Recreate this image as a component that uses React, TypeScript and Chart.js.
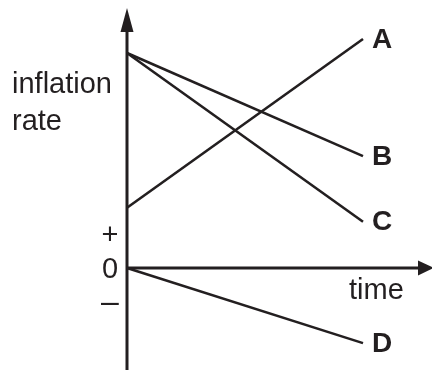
import React, { useEffect, useRef } from "react";
import { Chart, registerables } from "chart.js";

Chart.register(...registerables);

// Data (abstract units: time 0..10, inflation rate with 0 at the time axis)
const timePoints = [0, 10];
const seriesA = [2.8, 10.65];
const seriesB = [10, 5.2];
const seriesC = [10, 2.15];
const seriesD = [0, -3.5];
const seriesNames = ["A", "B", "C", "D"];
const seriesValues = [seriesA, seriesB, seriesC, seriesD];
const yAxisTitle = ["inflation", "rate"];
const xAxisTitle = "time";
const signLabels = ["+", "0", "\u2013"];

const INK = "#231f20";
const FONT = '"Liberation Sans", Arial, Helvetica, sans-serif';

const axesPlugin = {
  id: "sketchAxes",
  beforeDatasetsDraw(chart: any) {
    const { ctx } = chart;
    const xs = chart.scales.x;
    const ys = chart.scales.y;
    const x0 = xs.getPixelForValue(0);
    const y0 = ys.getPixelForValue(0);
    const W = chart.width;
    const H = chart.height;
    ctx.save();
    ctx.strokeStyle = INK;
    ctx.fillStyle = INK;
    ctx.lineWidth = 3;
    // y axis
    ctx.beginPath();
    ctx.moveTo(x0, 30);
    ctx.lineTo(x0, H);
    ctx.stroke();
    ctx.beginPath();
    ctx.moveTo(x0, 8);
    ctx.lineTo(x0 - 6.5, 32);
    ctx.lineTo(x0 + 6.5, 32);
    ctx.closePath();
    ctx.fill();
    // x axis
    ctx.beginPath();
    ctx.moveTo(x0, y0);
    ctx.lineTo(W - 12, y0);
    ctx.stroke();
    ctx.beginPath();
    ctx.moveTo(W + 2, y0);
    ctx.lineTo(W - 14, y0 - 7.5);
    ctx.lineTo(W - 14, y0 + 7.5);
    ctx.closePath();
    ctx.fill();
    ctx.restore();
  },
  afterDraw(chart: any) {
    const { ctx } = chart;
    const xs = chart.scales.x;
    const ys = chart.scales.y;
    const x0 = xs.getPixelForValue(0);
    const y0 = ys.getPixelForValue(0);
    ctx.save();
    ctx.fillStyle = INK;
    // y axis title
    ctx.font = `29px ${FONT}`;
    ctx.textAlign = "left";
    ctx.textBaseline = "alphabetic";
    ctx.fillText(yAxisTitle[0], 12, 93);
    ctx.fillText(yAxisTitle[1], 12, 130);
    // signs
    ctx.textAlign = "center";
    ctx.fillText(signLabels[0], x0 - 17, y0 - 24);
    ctx.fillText(signLabels[1], x0 - 17, y0 + 10);
    ctx.font = `32px ${FONT}`;
    ctx.fillText(signLabels[2], x0 - 17, y0 + 44);
    // x axis title
    ctx.font = `29px ${FONT}`;
    ctx.textAlign = "left";
    ctx.fillText(xAxisTitle, 349, y0 + 31);
    // series labels
    ctx.font = `bold 28px ${FONT}`;
    ctx.textBaseline = "middle";
    chart.data.datasets.forEach((ds: any, i: number) => {
      const meta = chart.getDatasetMeta(i);
      const last = meta.data[meta.data.length - 1];
      ctx.fillText(seriesNames[i], last.x + 9, last.y + 1);
    });
    ctx.restore();
  },
};

export default function App() {
  const ref = useRef<HTMLCanvasElement | null>(null);
  useEffect(() => {
    if (!ref.current) return;
    const chart = new Chart(ref.current, {
      type: "line",
      data: {
        datasets: seriesValues.map((vals, i) => ({
          label: seriesNames[i],
          data: timePoints.map((t, j) => ({ x: t, y: vals[j] })),
          borderColor: INK,
          borderWidth: 2.6,
          pointRadius: 0,
          fill: false,
          tension: 0,
          clip: false as any,
        })),
      },
      options: {
        responsive: false,
        animation: false,
        events: [],
        layout: { padding: { left: 127, right: 69, top: 10, bottom: 0 } },
        plugins: {
          legend: { display: false },
          tooltip: { enabled: false },
          title: { display: false },
        },
        scales: {
          x: { type: "linear", min: 0, max: 10, display: false },
          y: { type: "linear", min: -4.75, max: 12, display: false },
        },
      },
      plugins: [axesPlugin],
    });
    return () => chart.destroy();
  }, []);
  return (
    <div style={{ position: "absolute", left: 0, top: 0, width: 432, height: 370, background: "#fff" }}>
      <canvas ref={ref} width={432} height={370} style={{ display: "block" }} />
    </div>
  );
}
